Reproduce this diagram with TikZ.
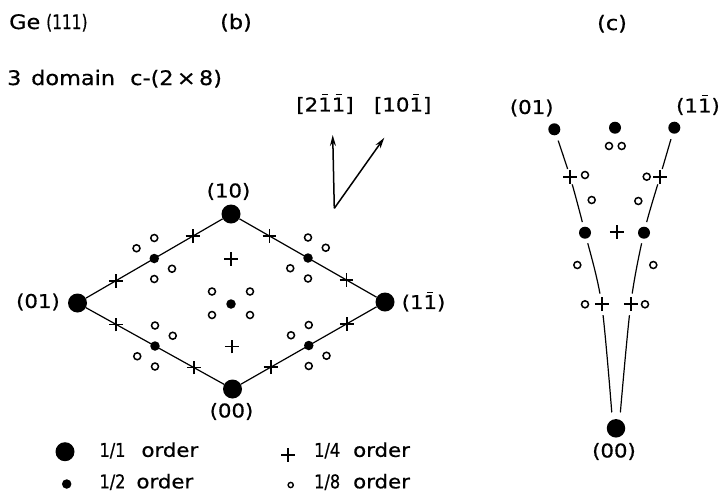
\documentclass[tikz,border=0pt]{standalone}
\usepackage{fontspec}
\setmainfont[FakeStretch=1.12,FakeBold=0.6]{DejaVu Sans}
\newfontfamily\nardig[FakeStretch=0.85,FakeBold=0.6]{DejaVu Sans}
\newfontfamily\narone[FakeStretch=0.77,FakeBold=0.6]{DejaVu Sans}
\usetikzlibrary{shapes.misc,arrows.meta,calc}
\newcommand\ob[1]{\makebox[0pt][l]{\hspace{0.2em}\rule[0.85em]{0.32em}{1.3pt}}#1}
\begin{document}
\begin{tikzpicture}[x=1pt,y=-1pt,
  lbl/.style={inner sep=0pt,font=\fontsize{19}{19}\selectfont},
  hdr/.style={inner sep=0pt,font=\fontsize{20}{20}\selectfont},
  big/.style={circle,fill,inner sep=0pt,minimum size=19pt},
  bigc/.style={circle,fill,inner sep=0pt,minimum size=18.5pt},
  half/.style={circle,fill,inner sep=0pt,minimum size=9.5pt},
  mid/.style={circle,fill,inner sep=0pt,minimum size=12pt},
  eighth/.style={circle,draw,line width=1.5pt,inner sep=0pt,minimum size=7pt},
  eighths/.style={circle,draw,line width=1.4pt,inner sep=0pt,minimum size=5.2pt},
  quarter/.style={cross out,draw,rotate=45,line width=1.8pt,inner sep=0pt,minimum size=8pt},
  edgeline/.style={line width=1.2pt},
  arr/.style={line width=1.5pt,-{Stealth[length=11pt,width=6pt]}}]
\useasboundingbox (0,0) rectangle (722,493);

% ---------- header texts ----------
\node[hdr,anchor=base west] (ge) at (9,29) {Ge};
\node[hdr,anchor=base west] (ge111) at (46,29) {\narone (111)};
\node[hdr,anchor=base] (lb) at (236,29) {(b)};
\node[hdr,anchor=base] (lc) at (612,30) {(c)};
\node[hdr,anchor=base west] (d3) at (7,85) {3};
\node[hdr,anchor=base west] (ddom) at (31,85) {domain};
\node[hdr,anchor=base west] (dc) at (130,85) {c-(2\,×\,8)};

% ---------- direction arrows ----------
\coordinate (o) at (334.3,208.3);
\coordinate (ta) at (332.7,135);
\coordinate (tb) at (384.3,137.7);
\draw[arr] (o) -- (ta);
\draw[arr] (o) -- (tb);
\node[lbl] (la) at (325,104) {[2\ob{1}\ob{1}]};
\node[lbl] (lbb) at (402.7,104) {[10\ob{1}]};

% ---------- panel (b) ----------
\node[big] (p10) at (231,214) {};
\node[big] (p01) at (77.5,303) {};
\node[big] (p11) at (385,302) {};
\node[big] (p00) at (232.5,389) {};
\draw[edgeline] (p01) -- (p10) -- (p11) -- (p00) -- (p01);

\node[half] (h0) at (231,304) {};
\node[half] (h1) at ($(p01)!0.5!(p10)$) {};
\node[half] (h2) at ($(p10)!0.5!(p11)$) {};
\node[half] (h3) at ($(p01)!0.5!(p00)$) {};
\node[half] (h4) at ($(p00)!0.5!(p11)$) {};

\node[quarter] (q1) at ($(p01)!0.25!(p10)$) {};
\node[quarter] (q2) at ($(p01)!0.75!(p10)$) {};
\node[quarter] (q3) at ($(p10)!0.25!(p11)$) {};
\node[quarter] (q4) at ($(p10)!0.75!(p11)$) {};
\node[quarter] (q5) at ($(p01)!0.25!(p00)$) {};
\node[quarter] (q6) at ($(p01)!0.75!(p00)$) {};
\node[quarter] (q7) at ($(p00)!0.25!(p11)$) {};
\node[quarter] (q8) at ($(p00)!0.75!(p11)$) {};
\node[quarter] (q9) at ($(p10)!0.5!(h0)$) {};
\node[quarter] (q10) at ($(h0)!0.5!(p00)$) {};

% 1/8 spots round the half order spots
\node[eighth] (e1a) at ($(h1)+(-17.75,-10.25)$) {};
\node[eighth] (e1b) at ($(h1)+(0,-20.5)$) {};
\node[eighth] (e1c) at ($(h1)+(17.75,10.25)$) {};
\node[eighth] (e1d) at ($(h1)+(0,20.5)$) {};
\node[eighth] (e2a) at ($(h2)+(0,-20.5)$) {};
\node[eighth] (e2b) at ($(h2)+(17.75,-10.25)$) {};
\node[eighth] (e2c) at ($(h2)+(-17.75,10.25)$) {};
\node[eighth] (e2d) at ($(h2)+(0,20.5)$) {};
\node[eighth] (e3a) at ($(h3)+(0,-20.5)$) {};
\node[eighth] (e3b) at ($(h3)+(17.75,-10.25)$) {};
\node[eighth] (e3c) at ($(h3)+(-17.75,10.25)$) {};
\node[eighth] (e3d) at ($(h3)+(0,20.5)$) {};
\node[eighth] (e4a) at ($(h4)+(0,-20.5)$) {};
\node[eighth] (e4b) at ($(h4)+(-17.75,-10.25)$) {};
\node[eighth] (e4c) at ($(h4)+(17.75,10.25)$) {};
\node[eighth] (e4d) at ($(h4)+(0,20.5)$) {};
\node[eighth] (e0a) at ($(h0)+(-19,-12.5)$) {};
\node[eighth] (e0b) at ($(h0)+(19,-12.5)$) {};
\node[eighth] (e0c) at ($(h0)+(-19,11)$) {};
\node[eighth] (e0d) at ($(h0)+(19,11)$) {};

% labels (b)
\node[lbl] (l10) at (228.5,191.5) {(10)};
\node[lbl,anchor=east] (l01) at (60,302) {(01)};
\node[lbl,anchor=west] (l11) at (401.5,301.5) {(1\ob{1})};
\node[lbl] (l00) at (231.5,411.5) {(00)};

% ---------- panel (c) ----------
\coordinate (c01) at (554.3,129.3);
\coordinate (ctop) at (615,127.7);
\coordinate (c1m) at (674.3,127.7);
\coordinate (cdl) at (585,232.7);
\coordinate (cdr) at (644,232.7);
\coordinate (c00) at (616,428.3);
\coordinate (cxl1) at (570,176.7);
\coordinate (cxr1) at (660,176.7);
\coordinate (cxm) at (616.7,231.7);
\coordinate (cxl2) at (601.7,304.3);
\coordinate (cxr2) at (630.7,304.3);
\coordinate (cendl) at (613,428);
\coordinate (cendr) at (619,428);

\draw[edgeline] plot[smooth] coordinates {(c01) (cxl1) (cdl) (cxl2) (cendl)};
\draw[edgeline] plot[smooth] coordinates {(c1m) (cxr1) (cdr) (cxr2) (cendr)};
\foreach \n/\r in {c01/12,c1m/12,cdl/11,cdr/11,cxl1/8,cxr1/8,cxl2/11,cxr2/11,c00/16.5}
  \fill[white] (\n) circle (\r pt);

\node[mid] (n-c01) at (c01) {};
\node[mid] (n-ctop) at (ctop) {};
\node[mid] (n-c1m) at (c1m) {};
\node[mid] (n-cdl) at (cdl) {};
\node[mid] (n-cdr) at (cdr) {};
\node[bigc] (n-c00) at (c00) {};
\node[quarter] (n-cxl1) at (cxl1) {};
\node[quarter] (n-cxr1) at (cxr1) {};
\node[quarter] (n-cxm) at (cxm) {};
\node[quarter] (n-cxl2) at (cxl2) {};
\node[quarter] (n-cxr2) at (cxr2) {};
\node[eighth] (ce1) at (609,146) {};
\node[eighth] (ce2) at (621.7,146) {};
\node[eighth] (ce3) at (585,175) {};
\node[eighth] (ce4) at (591.7,200) {};
\node[eighth] (ce5) at (646.7,176.7) {};
\node[eighth] (ce6) at (638.3,201) {};
\node[eighth] (ce7) at (577.3,265) {};
\node[eighth] (ce8) at (653.3,265) {};
\node[eighth] (ce9) at (585,304.3) {};
\node[eighth] (ce10) at (645,304.3) {};

\node[lbl] (lc01) at (531.7,108) {(01)};
\node[lbl,anchor=east] (lc11) at (720,105) {(1\ob{1})};
\node[lbl] (lc00) at (614,451.5) {(00)};

% ---------- legend ----------
\node[big] (k1) at (65,451.7) {};
\node[half] (k2) at (66.7,484) {};
\node[quarter] (k4) at (288.3,455) {};
\node[eighths] (k8) at (290.7,485) {};
\node[lbl,anchor=west] (t1) at (99.3,450.5) {{\nardig 1/1}\hspace{16pt}order};
\node[lbl,anchor=west] (t2) at (99.3,482) {{\nardig 1/2}\hspace{11pt}order};
\node[lbl,anchor=west] (t4) at (314,450.5) {{\nardig 1/4}\hspace{13pt}order};
\node[lbl,anchor=west] (t8) at (314,482) {{\nardig 1/8}\hspace{13pt}order};
\end{tikzpicture}
\end{document}
